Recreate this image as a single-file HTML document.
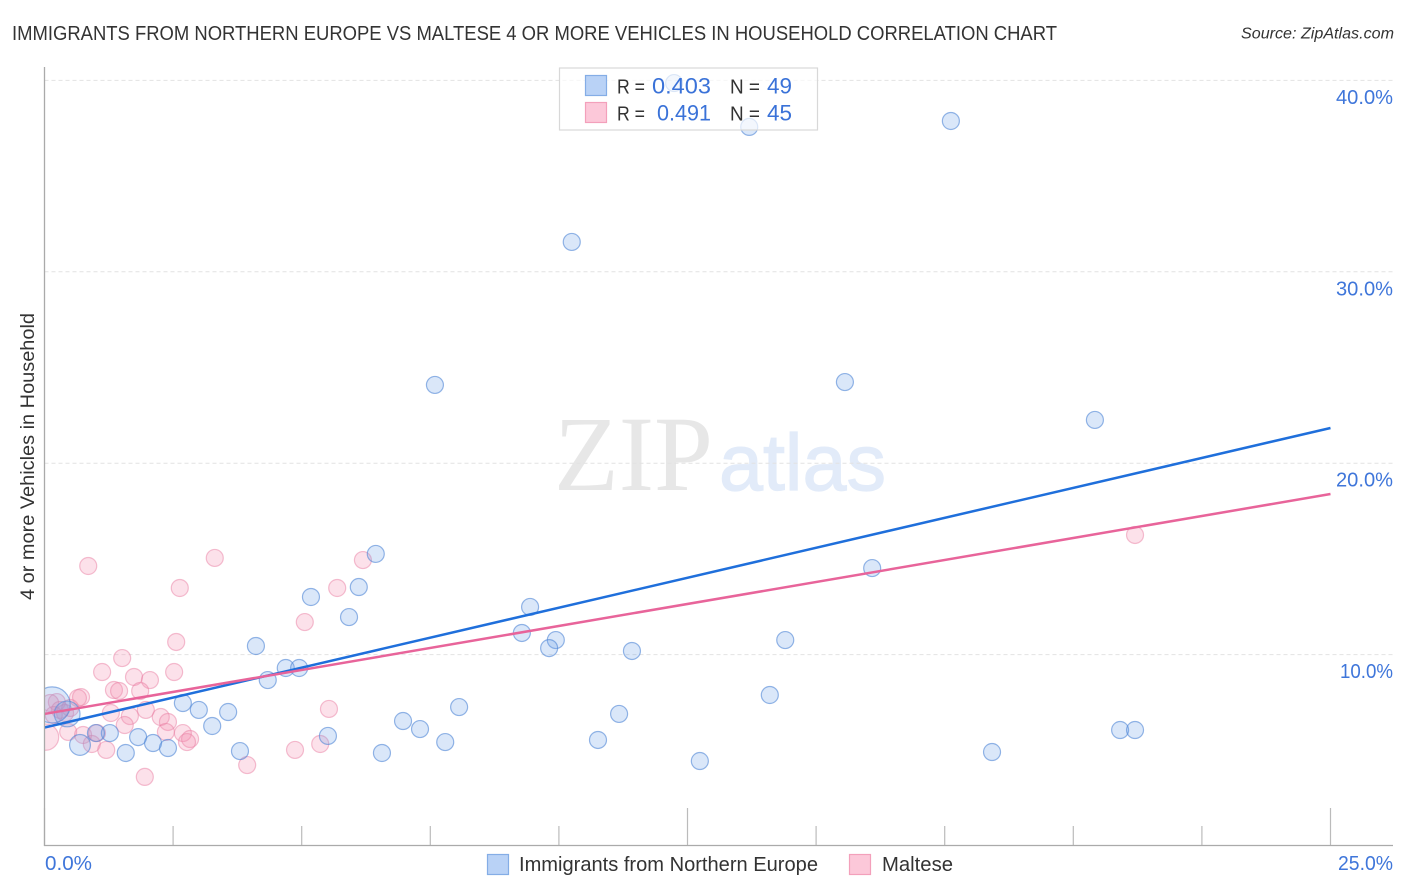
<!DOCTYPE html>
<html lang="en">
<head>
<meta charset="utf-8">
<title>Immigrants from Northern Europe vs Maltese correlation chart</title>
<style>
html,body{margin:0;padding:0;background:#fff;}
body{width:1406px;height:892px;overflow:hidden;}
svg{display:block;font-family:"Liberation Sans",sans-serif;}
</style>
</head>
<body>
<svg id="chart" width="1406" height="892" viewBox="0 0 1406 892" xmlns="http://www.w3.org/2000/svg">
  <defs>
    <clipPath id="plot-clip"><rect x="44.5" y="60" width="1349" height="786"></rect></clipPath>
  </defs>
  <text x="12" y="40" font-size="20" fill="#333" textLength="1045" lengthAdjust="spacingAndGlyphs">IMMIGRANTS FROM NORTHERN EUROPE VS MALTESE 4 OR MORE VEHICLES IN HOUSEHOLD CORRELATION CHART</text>
  <text x="1241" y="38.5" font-size="15.5" font-style="italic" fill="#333" textLength="153" lengthAdjust="spacingAndGlyphs">Source: ZipAtlas.com</text>

  <g>
    <text x="554" y="490" font-family="'Liberation Serif',serif" font-size="107" fill="#e7e7e7" textLength="159" lengthAdjust="spacingAndGlyphs">ZIP</text>
    <text x="719" y="490" font-size="80" fill="#e2ebf9" stroke="#e2ebf9" stroke-width="1.2" textLength="167" lengthAdjust="spacingAndGlyphs">atlas</text>
  </g>

  <g id="grid"></g>
  <g id="x-ticks"></g>
  <g id="dots" clip-path="url(#plot-clip)"></g>
  <g id="trends"></g>

  <line x1="44.5" y1="67" x2="44.5" y2="846" stroke="#aaa" stroke-width="1.3"></line>
  <line x1="44" y1="845.5" x2="1393" y2="845.5" stroke="#aaa" stroke-width="1.3"></line>

  <g id="y-labels"></g>
  <g id="x-labels"></g>

  <text transform="translate(34,600) rotate(-90)" x="0" y="0" font-size="19" fill="#333" textLength="287" lengthAdjust="spacingAndGlyphs">4 or more Vehicles in Household</text>

  <g>
    <rect x="559.5" y="68" width="258" height="62" fill="#fff" fill-opacity="0.68" stroke="#d8d8d8" stroke-width="1.2"></rect>
    <rect x="585.5" y="75.5" width="21" height="20" fill="#b9d2f6" stroke="#84ade6" stroke-width="1.2"></rect>
    <rect x="585.5" y="102.5" width="21" height="20" fill="#fcc8d9" stroke="#f3a0bb" stroke-width="1.2"></rect>
    <text x="617" y="93.5" font-size="20" fill="#333" textLength="28" lengthAdjust="spacingAndGlyphs">R =</text>
    <text x="652" y="93.5" font-size="22" fill="#3a72d8" textLength="59" lengthAdjust="spacingAndGlyphs">0.403</text>
    <text x="730" y="93.5" font-size="20" fill="#333" textLength="30" lengthAdjust="spacingAndGlyphs">N =</text>
    <text x="767" y="93.5" font-size="22" fill="#3a72d8" textLength="25" lengthAdjust="spacingAndGlyphs">49</text>
    <text x="617" y="120.5" font-size="20" fill="#333" textLength="28" lengthAdjust="spacingAndGlyphs">R =</text>
    <text x="657" y="120.5" font-size="22" fill="#3a72d8" textLength="54" lengthAdjust="spacingAndGlyphs">0.491</text>
    <text x="730" y="120.5" font-size="20" fill="#333" textLength="30" lengthAdjust="spacingAndGlyphs">N =</text>
    <text x="767" y="120.5" font-size="22" fill="#3a72d8" textLength="25" lengthAdjust="spacingAndGlyphs">45</text>
  </g>

  <g>
    <rect x="487.5" y="854.5" width="21" height="20" fill="#b9d2f6" stroke="#84ade6" stroke-width="1.2"></rect>
    <text x="519" y="871" font-size="20" fill="#333" textLength="299" lengthAdjust="spacingAndGlyphs">Immigrants from Northern Europe</text>
    <rect x="849.5" y="854.5" width="21" height="20" fill="#fcc8d9" stroke="#f3a0bb" stroke-width="1.2"></rect>
    <text x="882" y="871" font-size="20" fill="#333" textLength="71" lengthAdjust="spacingAndGlyphs">Maltese</text>
  </g>
</svg>
<script>
const blueX = [12.24,13.70,17.62,10.25,7.59,15.56,20.42,6.44,16.09,6.11,5.18,5.92,9.44,9.28,9.94,9.81,11.42,14.40,4.11,4.69,4.95,4.34,14.10,2.69,3.00,3.57,3.26,8.06,11.17,6.97,7.30,7.79,5.51,10.76,3.80,6.56,12.74,18.42,20.91,21.20,1.27,1.00,1.82,2.11,2.40,1.58,0.69,0.44,0.15];
const blueY = [39.86,37.57,37.88,31.56,24.09,24.24,22.26,15.26,14.52,13.53,13.01,11.96,12.49,11.13,10.76,10.34,10.19,10.76,10.45,9.30,9.30,8.67,7.89,7.47,7.11,7.00,6.27,7.26,6.90,6.53,6.11,5.43,5.75,5.54,4.96,4.86,4.44,4.91,6.06,6.06,5.90,5.90,5.69,5.38,5.12,4.86,5.28,6.90,7.37];
const blueWeight = [1,1,1,1,1,1,1,1,1,1,1,1,1,1,1,1,1,1,1,1,1,1,1,1,1,1,1,1,1,1,1,1,1,1,1,1,1,1,1,1,1,1,1,1,1,1,1.5,2.3,4.5];
const pinkX = [0.85,3.31,2.63,6.19,5.69,5.06,2.56,21.20,1.51,1.12,1.74,2.05,2.52,1.35,1.45,1.86,0.71,0.65,5.53,1.97,1.29,1.66,2.26,2.40,1.56,2.36,2.69,2.83,2.77,0.46,0.75,1.02,0.92,1.20,1.95,3.94,4.87,5.36,0.02,0.24,0.40,0.11,0.30,0.50,0.18];
const pinkY = [14.63,15.05,13.48,14.94,13.48,11.70,10.66,16.25,9.82,9.09,8.83,8.67,9.09,8.15,8.10,8.10,7.78,7.73,7.16,7.11,6.95,6.79,6.74,6.48,6.32,5.96,5.90,5.59,5.43,5.96,5.80,5.90,5.33,5.02,3.61,4.23,5.02,5.33,5.69,7.52,6.95,7.47,7.11,7.21,6.84];
const pinkWeight = [1,1,1,1,1,1,1,1,1,1,1,1,1,1,1,1,1,1,1,1,1,1,1,1,1,1,1,1,1,1,1,1,1,1,1,1,1,1,2.4,1,1,1,1,1,1];
const trendX = [0,25];
const blueTrendY = [6.19,21.84];
const pinkTrendY = [6.90,18.39];
const yTicks = [10,20,30,40];
const yTickLabels = ["10.0%","20.0%","30.0%","40.0%"];
const xTicks = [0,2.5,5,7.5,10,12.5,15,17.5,20,22.5,25];
const xMajorTicks = [0,12.5,25];
const xEndTicks = [0,25];
const xEndLabels = ["0.0%","25.0%"];

const SVG_NS = "http://www.w3.org/2000/svg";
function xScale(v){ return 44.5 + v * 51.44; }
function yScale(v){ return 846 - v * 19.14; }
function radius(w){ return 8.5 * Math.sqrt(w); }

function make(tag, parent, attrs){
  const el = document.createElementNS(SVG_NS, tag);
  for (const k in attrs) el.setAttribute(k, attrs[k]);
  parent.appendChild(el);
  return el;
}

const gridG = document.getElementById("grid");
yTicks.forEach(function(t){
  const el = make("line", gridG, {x1:44.5, x2:1393, y1:yScale(t), y2:yScale(t), stroke:"#e2e2e2", "stroke-width":1, "stroke-dasharray":"4 3"});
  
  
});

const tickG = document.getElementById("x-ticks");
xTicks.forEach(function(t){
  const top = xMajorTicks.indexOf(t) >= 0 ? 808 : 826;
  const el = make("line", tickG, {x1:xScale(t), x2:xScale(t), y1:top, y2:846, stroke:"#bbb", "stroke-width":1.2});
  
  
});

const dotsG = document.getElementById("dots");
pinkX.forEach(function(v, i){
  const el = make("circle", dotsG, {cx:xScale(v), cy:yScale(pinkY[i]), r:radius(pinkWeight[i]), fill:"#f48fb0", "fill-opacity":0.27, stroke:"#e97fa3", "stroke-opacity":0.5, "stroke-width":1.2});
  
  
});
blueX.forEach(function(v, i){
  const el = make("circle", dotsG, {cx:xScale(v), cy:yScale(blueY[i]), r:radius(blueWeight[i]), fill:"#6a9fe8", "fill-opacity":0.25, stroke:"#4f86d6", "stroke-opacity":0.6, "stroke-width":1.2});
  
  
});

const trendsG = document.getElementById("trends");
const blueTrend = make("line", trendsG, {x1:xScale(trendX[0]), y1:yScale(blueTrendY[0]), x2:xScale(trendX[1]), y2:yScale(blueTrendY[1]), stroke:"#1f6fdb", "stroke-width":2.5});


const pinkTrend = make("line", trendsG, {x1:xScale(trendX[0]), y1:yScale(pinkTrendY[0]), x2:xScale(trendX[1]), y2:yScale(pinkTrendY[1]), stroke:"#e8649a", "stroke-width":2.5});



const yLabelG = document.getElementById("y-labels");
yTicks.forEach(function(t, i){
  const label = yTickLabels[i];
  const w = label.charAt(0) === "1" ? 53 : 57;
  const el = make("text", yLabelG, {x:1393 - w, y:yScale(t) + 23.5, "font-size":20, fill:"#3f76da", textLength:w, lengthAdjust:"spacingAndGlyphs"});
  el.textContent = label;
  
  
});

const xLabelG = document.getElementById("x-labels");
xEndTicks.forEach(function(t, i){
  const w = xEndLabels[i].length > 4 ? 55 : 47;
  const el = make("text", xLabelG, {x: i === 0 ? xScale(t) + 0.5 : 1393 - w, y:870, "font-size":20, fill:"#3f76da", textLength:w, lengthAdjust:"spacingAndGlyphs"});
  el.textContent = xEndLabels[i];
  
  
});
</script>
</body>
</html>
